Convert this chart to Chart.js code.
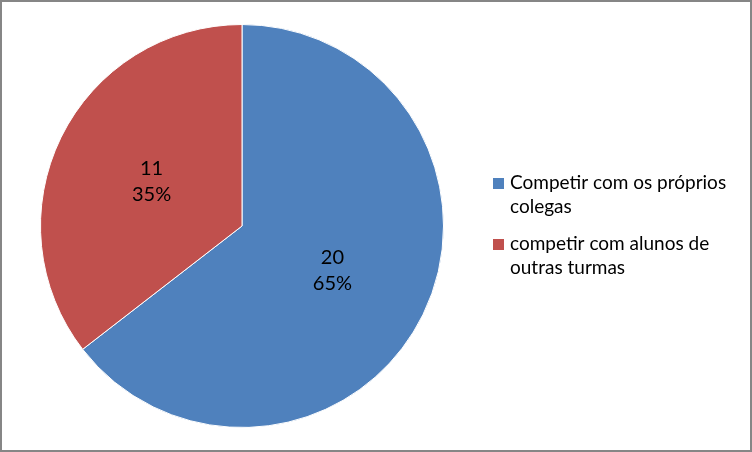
<!DOCTYPE html>
<html>
<head>
<meta charset="utf-8">
<script src="https://cdn.jsdelivr.net/npm/chart.js@4"></script>
<style>
  html, body { margin: 0; padding: 0; background: #fff; }
  #wrap { width: 752px; height: 452px; position: relative; }
</style>
</head>
<body>
<div id="wrap"><canvas id="chart-pie" width="752" height="452"></canvas></div>
<script>
// pie of how students prefer to compete
const labels = [["Competir com os próprios", "colegas"], ["competir com alunos de", "outras turmas"]];
const counts = [20, 11];
const colors = ["#4F81BD", "#C0504D"];

const FONT = "Lato, 'Open Sans', sans-serif";

// grey frame round the whole picture
const frame = {
  id: "frame",
  beforeDraw(chart) {
    const ctx = chart.ctx;
    ctx.save();
    ctx.fillStyle = "#fff";
    ctx.fillRect(0, 0, chart.width, chart.height);
    ctx.strokeStyle = "#868686";
    ctx.lineWidth = 2;
    ctx.strokeRect(1, 1, chart.width - 2, chart.height - 2);
    ctx.restore();
  },
};

// value + percent written in the middle of each slice
const sliceLabels = {
  id: "sliceLabels",
  afterDatasetsDraw(chart) {
    const ctx = chart.ctx;
    const meta = chart.getDatasetMeta(0);
    const total = counts.reduce((a, b) => a + b, 0);
    ctx.save();
    ctx.fillStyle = "#000";
    ctx.font = "20px " + FONT;
    ctx.textAlign = "center";
    ctx.textBaseline = "middle";
    meta.data.forEach((arc, i) => {
      const p = arc.tooltipPosition();
      const pct = Math.round(counts[i] / total * 100) + "%";
      ctx.fillText(String(counts[i]), p.x, p.y - 13);
      ctx.fillText(pct, p.x, p.y + 13);
    });
    ctx.restore();
  },
};

// legend on the right, two lines per entry
const sideLegend = {
  id: "sideLegend",
  afterDraw(chart) {
    const ctx = chart.ctx;
    ctx.save();
    ctx.font = "19px " + FONT;
    ctx.textBaseline = "middle";
    ctx.textAlign = "left";
    const x0 = 493, y0 = 183, lineH = 24, gap = 61;
    labels.forEach((lines, i) => {
      const y = y0 + i * gap;
      ctx.fillStyle = colors[i];
      ctx.fillRect(x0, y - 5, 11, 11);
      ctx.fillStyle = "#000";
      lines.forEach((s, j) => ctx.fillText(s, x0 + 17, y + j * lineH));
    });
    ctx.restore();
  },
};

new Chart(document.getElementById("chart-pie"), {
  type: "pie",
  data: {
    labels: labels.map((l) => l.join(" ")),
    datasets: [{ data: counts, backgroundColor: colors, borderColor: "#ffffff", borderWidth: 1 }],
  },
  options: {
    responsive: false, animation: false,
    layout: { padding: { left: 40, right: 308, top: 24, bottom: 24 } },
    plugins: { legend: { display: false }, tooltip: { enabled: false } },
  },
  plugins: [frame, sliceLabels, sideLegend],
});
</script>
</body>
</html>
